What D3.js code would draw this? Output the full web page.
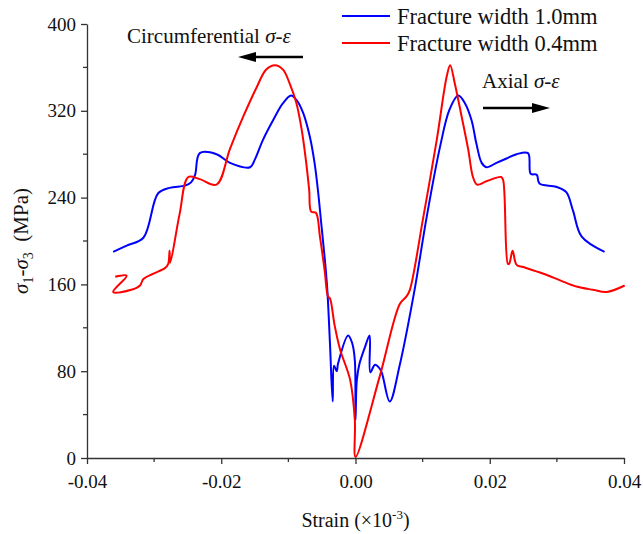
<!DOCTYPE html>
<html>
<head>
<meta charset="utf-8">
<script src="https://cdn.jsdelivr.net/npm/d3@7"></script>
<style>
  body { margin: 0; background: #fff; }
  svg text { font-family: 'Liberation Serif', 'DejaVu Serif', serif; }
</style>
</head>
<body>
<script>
const width = 643;
const height = 534;
const margin = {top: 24, right: 19, bottom: 76, left: 87};

// strain / stress pairs
const blueStrain = [-0.0361, -0.0340, -0.0316, -0.0294, -0.0277, -0.0254, -0.0245, -0.0239, -0.0232, -0.0207,
  -0.0187, -0.0157, -0.0150, -0.0138, -0.0123, -0.0108, -0.0096, -0.0088, -0.0078, -0.0068,
  -0.0061, -0.0056, -0.0051, -0.0046, -0.0042, -0.0038, -0.0034, -0.0032, -0.0028, -0.0026,
  -0.0011, -0.0005, -0.0001, 0.0000, 0.0002, 0.0006, 0.0014, 0.0021, 0.0022, 0.0029,
  0.0034, 0.0039, 0.0051, 0.0066, 0.0088, 0.0106, 0.0126, 0.0140, 0.0153, 0.0163,
  0.0173, 0.0180, 0.0188, 0.0195, 0.0210, 0.0225, 0.0240, 0.0257, 0.0261, 0.0270,
  0.0274, 0.0299, 0.0314, 0.0324, 0.0337, 0.0371];
const blueStress = [190, 196, 203, 244, 249, 251, 254, 261, 281, 280,
  272, 268, 275, 293, 311, 327, 334, 330, 318, 296,
  272, 247, 216, 185, 155, 105, 52, 85, 80, 87,
  113, 106, 90, 35, 72, 87, 102, 113, 79, 86,
  84, 79, 52, 86, 155, 222, 287, 321, 334, 327,
  311, 290, 272, 268, 272, 276, 280, 281, 262, 261,
  253, 250, 245, 228, 204, 190];

const redStrain = [-0.0358, -0.0341, -0.0361, -0.0334, -0.0321, -0.0316, -0.0301, -0.0284, -0.0279, -0.0277,
  -0.0276, -0.0262, -0.0249, -0.0232, -0.0207, -0.0187, -0.0167, -0.0147, -0.0133, -0.0120,
  -0.0108, -0.0098, -0.0088, -0.0080, -0.0074, -0.0069, -0.0066, -0.0059, -0.0053, -0.0046,
  -0.0041, -0.0038, -0.0031, -0.0023, -0.0008, -0.0001, 0.0000, 0.0036, 0.0066, 0.0076,
  0.0081, 0.0101, 0.0121, 0.0136, 0.0141, 0.0148, 0.0158, 0.0168, 0.0175, 0.0181,
  0.0195, 0.0217, 0.0220, 0.0227, 0.0229, 0.0234, 0.0240, 0.0250, 0.0279, 0.0304,
  0.0329, 0.0354, 0.0374, 0.0401];
const redStress = [167, 168, 153, 155, 159, 165, 170, 175, 179, 191,
  180, 225, 259, 257, 252, 285, 315, 342, 358, 362,
  358, 345, 327, 302, 275, 247, 227, 226, 204, 173,
  149, 147, 122, 100, 72, 35, 1, 75, 142, 149,
  155, 222, 293, 352, 362, 345, 315, 284, 259, 252,
  255, 259, 256, 179, 179, 191, 178, 176, 170, 164,
  158, 155, 153, 159];

const series = [
  {name: 'Fracture width 1.0mm', color: '#0000ff', xs: blueStrain, ys: blueStress},
  {name: 'Fracture width 0.4mm', color: '#ff0000', xs: redStrain, ys: redStress}
];

const xTicks = [-0.04, -0.02, 0.00, 0.02, 0.04];
const xMinor = [-0.03, -0.01, 0.01, 0.03];
const yTicks = [0, 80, 160, 240, 320, 400];
const yMinor = [40, 120, 200, 280, 360];

const svg = d3.select('body').append('svg')
  .attr('width', width)
  .attr('height', height);

const x = d3.scaleLinear().domain([-0.04, 0.04]).range([margin.left, width - margin.right]);
const y = d3.scaleLinear().domain([0, 400]).range([height - margin.bottom, margin.top]);

const axisColor = '#333';
const fontFamily = "'Liberation Serif', 'DejaVu Serif', serif";

// curves
const line = d3.line().x(d => x(d[0])).y(d => y(d[1])).curve(d3.curveCatmullRom.alpha(0.5));
series.forEach(s => {
  svg.append('path')
    .datum(d3.zip(s.xs, s.ys))
    .attr('d', line)
    .attr('fill', 'none')
    .attr('stroke', s.color)
    .attr('stroke-width', 2)
    .attr('stroke-linejoin', 'round');
});

// axes
const fmtX = d => d3.format('.2f')(d).replace('\u2212', '-');
const xAxis = svg.append('g')
  .attr('transform', `translate(0,${y(0)})`)
  .call(d3.axisBottom(x).tickValues(xTicks).tickFormat(fmtX).tickSize(6).tickSizeOuter(0));
xAxis.append('g').selectAll('line')
  .data(xMinor)
  .join('line')
  .attr('x1', d => x(d)).attr('x2', d => x(d))
  .attr('y1', 0).attr('y2', 4)
  .attr('stroke', axisColor).attr('stroke-width', 1.3);

const yAxis = svg.append('g')
  .attr('transform', `translate(${x(-0.04)},0)`)
  .call(d3.axisLeft(y).tickValues(yTicks).tickSize(6).tickSizeOuter(0));
yAxis.append('g').selectAll('line')
  .data(yMinor)
  .join('line')
  .attr('x1', 0).attr('x2', -4)
  .attr('y1', d => y(d)).attr('y2', d => y(d))
  .attr('stroke', axisColor).attr('stroke-width', 1.3);

[xAxis, yAxis].forEach(g => {
  g.attr('font-family', fontFamily).attr('font-size', 19);
  g.select('.domain').attr('stroke', axisColor).attr('stroke-width', 1.3);
  g.selectAll('.tick line').attr('stroke', axisColor).attr('stroke-width', 1.3);
  g.selectAll('.tick text').attr('fill', '#111');
});
xAxis.selectAll('.tick text').attr('dy', '1.1em');
yAxis.selectAll('.tick text').attr('dx', '-0.1em');

// axis titles
const xt = svg.append('text')
  .attr('x', x(0)).attr('y', 527)
  .attr('text-anchor', 'middle')
  .attr('font-size', 20).attr('fill', '#111');
xt.append('tspan').text('Strain (×10');
xt.append('tspan').text('-3').attr('font-size', 13).attr('dy', -8);
xt.append('tspan').text(')').attr('dy', 8);

const yt = svg.append('text')
  .attr('transform', `translate(28,${y(200)}) rotate(-90)`)
  .attr('text-anchor', 'middle')
  .attr('font-size', 21).attr('fill', '#111');
yt.append('tspan').text('σ').attr('font-style', 'italic');
yt.append('tspan').text('1').attr('font-size', 14).attr('dy', 5);
yt.append('tspan').text('-').attr('dy', -5);
yt.append('tspan').text('σ').attr('font-style', 'italic');
yt.append('tspan').text('3').attr('font-size', 14).attr('dy', 5);
yt.append('tspan').text('\u00a0\u00a0(MPa)').attr('dy', -5);

// legend
const legend = svg.append('g');
series.forEach((s, i) => {
  const ly = 16 + i * 27;
  legend.append('line')
    .attr('x1', 342).attr('x2', 390)
    .attr('y1', ly).attr('y2', ly)
    .attr('stroke', s.color).attr('stroke-width', 2);
  legend.append('text')
    .attr('x', 397).attr('y', ly + 8)
    .attr('font-size', 22.5).attr('fill', '#111')
    .text(s.name);
});

// annotations
const circ = svg.append('text')
  .attr('x', 127).attr('y', 43)
  .attr('font-size', 21).attr('fill', '#111');
circ.append('tspan').text('Circumferential ');
circ.append('tspan').text('σ-ε').attr('font-style', 'italic');

const axial = svg.append('text')
  .attr('x', 482).attr('y', 88)
  .attr('font-size', 21).attr('fill', '#111');
axial.append('tspan').text('Axial ');
axial.append('tspan').text('σ-ε').attr('font-style', 'italic');

const arrow = (x1, x2, yy) => {
  const dir = Math.sign(x2 - x1);
  svg.append('line')
    .attr('x1', x1).attr('x2', x2 - dir * 14)
    .attr('y1', yy).attr('y2', yy)
    .attr('stroke', '#000').attr('stroke-width', 2.5);
  svg.append('path')
    .attr('d', `M${x2},${yy} L${x2 - dir * 18},${yy - 5} L${x2 - dir * 18},${yy + 5} Z`)
    .attr('fill', '#000');
};
arrow(303, 238, 57);
arrow(483, 550, 108);
</script>
</body>
</html>
